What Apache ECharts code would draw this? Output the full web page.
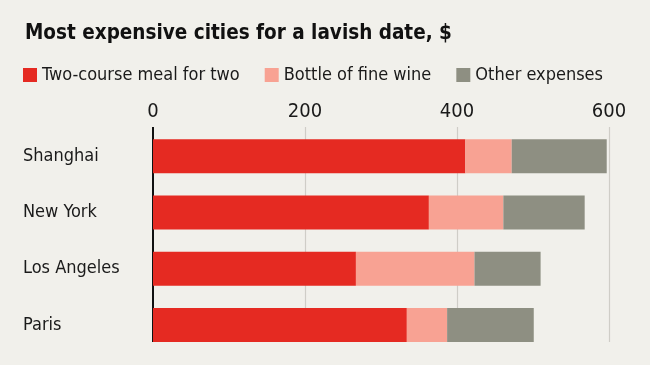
<!DOCTYPE html>
<html><head><meta charset="utf-8">
<script src="https://cdn.jsdelivr.net/npm/echarts@6/dist/echarts.min.js"></script>
<style>html,body{margin:0;padding:0;background:#f1f0eb;}#c{width:650px;height:365px;}</style>
</head><body><div id="c"></div>
<script>
const cities = ['Shanghai', 'New York', 'Los Angeles', 'Paris'];
const meal = [411, 363, 267, 334];
const wine = [61, 98, 156, 53];
const other = [125, 107, 87, 114];
const seriesNames = ['Two-course meal for two', 'Bottle of fine wine', 'Other expenses'];
const xTicks = [0, 200, 400, 600];

const FONT = "'DejaVu Sans Condensed', 'DejaVu Sans', sans-serif";
const colors = ['#e52a22', '#f8a293', '#8e8f82'];
const chart = echarts.init(document.getElementById('c'));
const lineTop = 127, lineBottom = 342;
const gridLines = xTicks.map(v => [
  {xAxis: v, y: lineTop, lineStyle: {color: v === 0 ? '#111' : '#cfcdc7', width: v === 0 ? 2 : 1.2, type: 'solid'}},
  {xAxis: v, y: lineBottom}
]);
chart.setOption({
  backgroundColor: '#f1f0eb',
  animation: false,
  textStyle: {fontFamily: FONT},
  title: {text: 'Most expensive cities for a lavish date, $', left: 20, top: 18,
    textStyle: {fontFamily: FONT, fontSize: 20.5, fontWeight: 'bold', color: '#111'}},
  legend: {left: 18, top: 61, itemWidth: 14, itemHeight: 14, itemGap: 25, icon: 'rect',
    textStyle: {fontFamily: FONT, fontSize: 18, color: '#1a1a1a'},
    data: seriesNames},
  grid: {left: 153, right: 41, top: 128, height: 225},
  xAxis: {type: 'value', position: 'top', min: 0, max: 600, interval: 200,
    axisLine: {show: false}, axisTick: {show: false}, splitLine: {show: false},
    axisLabel: {fontFamily: FONT, fontSize: 20, color: '#1a1a1a', margin: 6}},
  yAxis: {type: 'category', inverse: true, data: cities,
    axisLine: {show: false}, axisTick: {show: false},
    axisLabel: {fontFamily: FONT, fontSize: 18, color: '#1a1a1a', align: 'left', margin: 130}},
  series: [
    {name: seriesNames[0], type: 'bar', stack: 't', data: meal, barWidth: 34, itemStyle: {color: colors[0]},
     z: 2,
     markLine: {silent: true, symbol: 'none', label: {show: false}, data: gridLines, z: 1}},
    {name: seriesNames[1], type: 'bar', stack: 't', data: wine, barWidth: 34, itemStyle: {color: colors[1]}, z: 2},
    {name: seriesNames[2], type: 'bar', stack: 't', data: other, barWidth: 34, itemStyle: {color: colors[2]}, z: 2}
  ]
});
</script></body></html>
